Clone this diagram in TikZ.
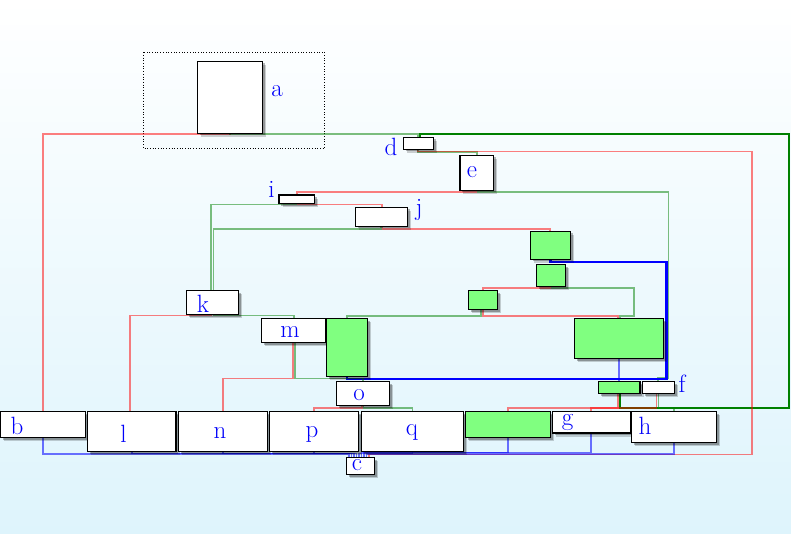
\documentclass[tikz,border=0pt]{standalone}
\usetikzlibrary{shadows,calc}
\pgfdeclarelayer{bglayer}
\pgfdeclarelayer{edgelayer}
\pgfsetlayers{bglayer,edgelayer,main}
\definecolor{lab}{RGB}{0,0,250}
\definecolor{bgbot}{RGB}{222,244,252}
\definecolor{bgmid}{RGB}{240,250,254}
\definecolor{boxgreen}{RGB}{128,255,128}
\definecolor{dgreen}{RGB}{0,128,0}
\tikzset{
  box/.style={draw=black, line width=1.2pt, fill=white, inner sep=0pt, outer sep=0pt,
    drop shadow={shadow xshift=3.5pt, shadow yshift=-3.5pt, opacity=0.18, fill=black},
    drop shadow={shadow xshift=2.2pt, shadow yshift=-2.2pt, opacity=0.28, fill=black}},
  gbox/.style={box, fill=boxgreen},
  lbl/.style={text=lab, font=\fontsize{25}{25}\selectfont, inner sep=0pt, anchor=base},
  redge/.style={draw=red, draw opacity=0.5, line width=1.7pt},
  gedge/.style={draw=dgreen, draw opacity=0.5, line width=1.7pt},
  bedge/.style={draw=blue, draw opacity=0.55, line width=1.7pt},
  bthick/.style={draw=blue, line width=2.4pt},
  dgthick/.style={draw=dgreen, line width=2.4pt},
}
\begin{document}
\begin{tikzpicture}[x=1pt,y=-1pt]
\useasboundingbox (0,0) rectangle (791,534);
\begin{pgfonlayer}{bglayer}
\fill[top color=white, middle color=bgmid, bottom color=bgbot] (0,0) rectangle (791,534);
\draw[dotted, line width=0.7pt] (143.3,52.3) rectangle (324.7,148.3);
\end{pgfonlayer}

% nodes
\node[box, minimum width=65.4pt, minimum height=72pt] (a) at (230,97.3) {};
\node[box, minimum width=30pt, minimum height=12pt] (d) at (418.3,143.3) {};
\node[box, minimum width=33.7pt, minimum height=35pt] (e) at (476.8,172.8) {};
\node[box, minimum width=35.3pt, minimum height=8.3pt] (i) at (296.7,199.2) {};
\node[box, minimum width=52pt, minimum height=19pt] (j) at (381.7,216.8) {};
\node[gbox, minimum width=40pt, minimum height=28pt] (g1) at (550.3,245.3) {};
\node[gbox, minimum width=29pt, minimum height=22.4pt] (g2) at (550.8,275.5) {};
\node[gbox, minimum width=29pt, minimum height=19pt] (g3) at (482.8,299.8) {};
\node[gbox, minimum width=89pt, minimum height=40pt] (gbig) at (618.8,338.3) {};
\node[gbox, minimum width=41.7pt, minimum height=12pt] (fg) at (619.2,387.3) {};
\node[box, minimum width=32pt, minimum height=12pt] (fw) at (658.3,387.3) {};
\node[box, minimum width=51.6pt, minimum height=24pt] (k) at (212.5,302.3) {};
\node[box, minimum width=64pt, minimum height=24pt] (m) at (293.7,330.3) {};
\node[gbox, minimum width=41.4pt, minimum height=58pt] (gtall) at (347,347.3) {};
\node[box, minimum width=53pt, minimum height=24pt] (o) at (362.8,393.3) {};
\node[box, minimum width=85pt, minimum height=25.6pt] (b) at (43.2,424.5) {};
\node[box, minimum width=88.7pt, minimum height=39.6pt] (l) at (131.7,431.5) {};
\node[box, minimum width=89pt, minimum height=40pt] (n) at (222.8,431.3) {};
\node[box, minimum width=89pt, minimum height=40pt] (p) at (313.8,431.3) {};
\node[box, minimum width=101.6pt, minimum height=40pt] (q) at (412.5,431.3) {};
\node[gbox, minimum width=84.6pt, minimum height=26pt] (gb) at (508,424.3) {};
\node[box, minimum width=78pt, minimum height=21.7pt] (g) at (591.3,422.2) {};
\node[box, minimum width=85pt, minimum height=31pt] (h) at (673.8,426.8) {};
\node[box, minimum width=27.6pt, minimum height=17.4pt] (c) at (360.5,466) {};

% labels
\node[lbl] (ta) at (277,96.7) {a};
\node[lbl] (td) at (391,155.3) {d};
\node[lbl] (te) at (472,178) {e};
\node[lbl] (ti) at (271.5,197.3) {i};
\node[lbl] (tj) at (419,216) {j};
\node[lbl] (tk) at (203,312.7) {k};
\node[lbl] (tm) at (290,337.3) {m};
\node[lbl] (to) at (359,400.7) {o};
\node[lbl] (tf) at (682,392) {f};
\node[lbl] (tb) at (17,434) {b};
\node[lbl] (tl) at (123.5,442) {l};
\node[lbl] (tn) at (220,438.3) {n};
\node[lbl] (tp) at (312,437) {p};
\node[lbl] (tq) at (412,435) {q};
\node[lbl] (tg) at (567.5,425) {g};
\node[lbl] (th) at (645,434.3) {h};
\node[lbl] (tc) at (357,470.7) {c};

\begin{pgfonlayer}{edgelayer}
\draw[redge] (a.south) -- ++(0,0.8) -| (b.north);
\draw[gedge] (a.south) -- ++(0,0.8) -| ([xshift=-0.6pt]d.north);
\draw[dgthick] ([xshift=0.8pt]fg.south) |- (789,408) -- (789,134) -| ([xshift=1.8pt]d.north);
\draw[gedge] ([xshift=-0.6pt]d.south) -- ++(0,3) -| (e.north);
\draw[redge] ([xshift=-0.8pt]d.south) -- ++(0,2.2) -- (752,151.5) -- (752,454.5) -| ([xshift=8.5pt]c.north);
\draw[redge] ([xshift=-0.8pt]e.south) -- ++(0,1.7) -| (i.north);
\draw[gedge] ([xshift=0.8pt]e.south) -- ++(0,1.7) -- (668.5,192) -- (668.5,378) -| (fw.north);
\draw[gedge] ([xshift=-0.8pt]i.south) -- ++(0,1.3) -| ([xshift=-1.5pt]k.north);
\draw[redge] ([xshift=0.8pt]i.south) -- ++(0,1.3) -| (j.north);
\draw[gedge] ([xshift=-0.8pt]j.south) -- ++(0,2.7) -| ([xshift=1pt]k.north);
\draw[redge] ([xshift=0.8pt]j.south) -- ++(0,2.7) -| (g1.north);
\draw[bthick] (g1.south) -- ++(0,2.7) -- (666.3,262) -- (666.3,379) -| (gtall.south);
\draw[redge] ([xshift=-0.8pt]g2.south) -- ++(0,1.2) -| (g3.north);
\draw[gedge] ([xshift=0.8pt]g2.south) -- ++(0,1.2) -- (634,287.9) -- (634,316) -| ([xshift=1.2pt]gbig.north);
\draw[redge] ([xshift=0.5pt]g3.south) -- ++(0,6.5) -| ([xshift=-0.8pt]gbig.north);
\draw[gedge] ([xshift=-1.5pt]g3.south) -- ++(0,6.5) -| (gtall.north);
\draw[redge] ([xshift=-1pt]k.south) -- ++(0,1.3) -| ([xshift=-1.5pt]l.north);
\draw[gedge] ([xshift=1pt]k.south) -- ++(0,1.3) -| (m.north);
\draw[redge] ([xshift=-1pt]m.south) -- ++(0,36.2) -| (n.north);
\draw[gedge] ([xshift=1pt]m.south) -- ++(0,36.2) -| (o.north);
\draw[redge] ([xshift=-0.8pt]o.south) -- ++(0,2.5) -| (p.north);
\draw[gedge] ([xshift=0.8pt]o.south) -- ++(0,2.5) -| (q.north);
\draw[bedge] (gbig.south) -- (gbig.south |- fg.north);
\draw[redge] ([xshift=-1.5pt]fg.south) -- ++(0,14.4) -| (gb.north);
\draw[redge] ([xshift=-1.8pt]fw.south) -- ++(0,14.4) -| (g.north);
\draw[gedge] ([xshift=0.2pt]fw.south) -- ++(0,14.4) -| (h.north);
\draw[bedge] (b.south) -- ++(0,16.5) -| ([xshift=-11.5pt]c.north);
\draw[bedge] (l.south) -- ++(0,2.2) -| ([xshift=-9pt]c.north);
\draw[bedge] (n.south) -- ++(0,2.2) -| ([xshift=-6.5pt]c.north);
\draw[bedge] (p.south) -- ++(0,2.2) -| ([xshift=-4pt]c.north);
\draw[bedge] (q.south) -- ++(0,2.2) -| ([xshift=-1.5pt]c.north);
\draw[bedge] (gb.south) -- ++(0,15.2) -| ([xshift=1pt]c.north);
\draw[bedge] (g.south) -- ++(0,19.5) -| ([xshift=3.5pt]c.north);
\draw[bedge] (h.south) -- ++(0,12) -| ([xshift=6pt]c.north);
\end{pgfonlayer}
\end{tikzpicture}
\end{document}
